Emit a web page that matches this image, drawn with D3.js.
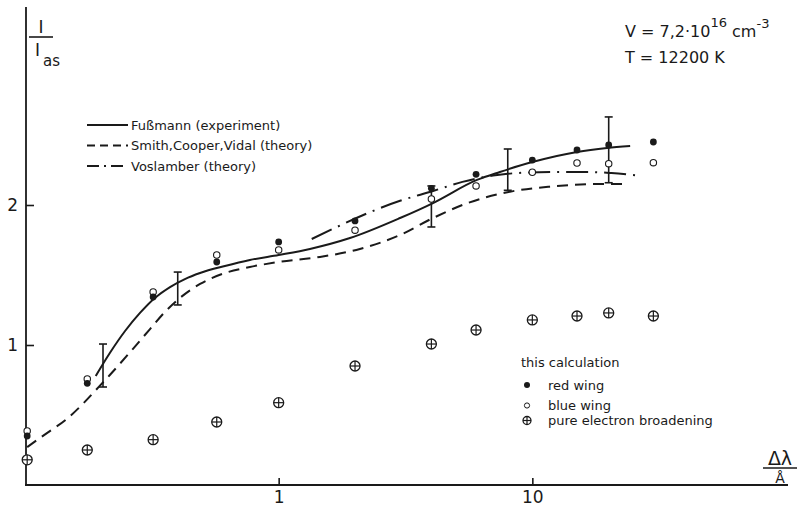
<!DOCTYPE html>
<html>
<head>
<meta charset="utf-8">
<script src="https://cdn.jsdelivr.net/npm/d3@7"></script>
<style>
  body { margin: 0; background: #fff; }
  svg { display: block; }
  text { font-family: "DejaVu Sans", sans-serif; fill: #1a1a1a; }
</style>
</head>
<body>
<svg width="799" height="507"></svg>
<script>
// Δλ positions of the calculated points
const calcX = [0.102, 0.176, 0.32, 0.57, 1, 2, 4, 6, 10, 15, 20, 30];
const redWing = [0.35, 0.726, 1.343, 1.593, 1.736, 1.886, 2.119, 2.219, 2.321, 2.393, 2.429, 2.45];
const blueWing = [0.386, 0.757, 1.379, 1.643, 1.679, 1.82, 2.043, 2.136, 2.234, 2.30, 2.295, 2.302];
const electronOnly = [0.18, 0.25, 0.324, 0.45, 0.588, 0.85, 1.007, 1.107, 1.179, 1.207, 1.229, 1.207];

// Fußmann (experiment) curve
const fussmannX = [0.19, 0.216, 0.248, 0.284, 0.325, 0.373, 0.427, 0.49, 0.614, 0.77, 1.0, 1.328, 1.91, 3.01, 4.06, 6.05, 7.45, 10.0, 15.0, 19.7, 24.3];
const fussmannY = [0.779, 0.943, 1.10, 1.229, 1.336, 1.414, 1.471, 1.514, 1.564, 1.607, 1.643, 1.686, 1.764, 1.907, 2.014, 2.179, 2.236, 2.307, 2.379, 2.407, 2.421];

// Smith, Cooper, Vidal (theory)
const scvX = [0.102, 0.122, 0.146, 0.169, 0.192, 0.216, 0.266, 0.311, 0.356, 0.408, 0.49, 0.614, 0.77, 1.0, 1.455, 2.09, 3.01, 4.06, 5.52, 8.16, 11.7, 18.5, 22.8];
const scvY = [0.271, 0.371, 0.471, 0.579, 0.686, 0.786, 0.971, 1.114, 1.236, 1.336, 1.436, 1.514, 1.557, 1.593, 1.629, 1.686, 1.786, 1.907, 2.012, 2.095, 2.131, 2.15, 2.15];

// Voslamber (theory)
const voslX = [1.35, 3.01, 4.06, 5.3, 7.0, 9.5, 12.6, 16.4, 20.5, 25.8];
const voslY = [1.757, 2.03, 2.10, 2.165, 2.21, 2.232, 2.236, 2.236, 2.228, 2.212];

// error bars of the experiment
const errX = [0.203, 0.40, 4.0, 8.0, 20.0];
const errLo = [0.70, 1.286, 1.843, 2.105, 2.159];
const errHi = [1.007, 1.521, 2.136, 2.40, 2.629];

const xTicks = [1, 10];
const yTicks = [1, 2];

const svg = d3.select("svg");
const ink = "#1a1a1a";

const x = d3.scaleLog().domain([0.1, 100]).range([25, 786]);
const y = d3.scaleLinear().domain([0, 3.4]).range([485, 9]);

// axes (lines drawn by hand, ticks via d3.axis)
svg.append("line")
    .attr("x1", 26).attr("x2", 26).attr("y1", 7).attr("y2", y(0))
    .attr("stroke", ink).attr("stroke-width", 1.8);
svg.append("line")
    .attr("x1", 25).attr("x2", 788).attr("y1", y(0)).attr("y2", y(0))
    .attr("stroke", ink).attr("stroke-width", 1.8);

const yAxis = svg.append("g")
    .attr("transform", "translate(26,0)")
    .call(d3.axisLeft(y).tickValues(yTicks).tickFormat(d3.format("d"))
        .tickSizeInner(-8).tickSizeOuter(0).tickPadding(8));
const xAxis = svg.append("g")
    .attr("transform", `translate(0,${y(0)})`)
    .call(d3.axisBottom(x).tickValues(xTicks).tickFormat(d3.format("d"))
        .tickSizeInner(-7).tickSizeOuter(0).tickPadding(6));

[yAxis, xAxis].forEach(g => {
    g.select(".domain").remove();
    g.selectAll(".tick line").attr("stroke", ink).attr("stroke-width", 1.6);
    g.selectAll(".tick text")
        .attr("font-family", "DejaVu Sans, sans-serif")
        .attr("font-size", 17)
        .attr("fill", ink);
});

// curves
const toPts = (xs, ys) => xs.map((d, i) => [d, ys[i]]);
const line = d3.line()
    .x(d => x(d[0]))
    .y(d => y(d[1]))
    .curve(d3.curveMonotoneX);

svg.append("path")
    .datum(toPts(fussmannX, fussmannY))
    .attr("d", line)
    .attr("fill", "none").attr("stroke", ink).attr("stroke-width", 2);

svg.append("path")
    .datum(toPts(scvX, scvY))
    .attr("d", line)
    .attr("fill", "none").attr("stroke", ink).attr("stroke-width", 2)
    .attr("stroke-dasharray", "11,7");

svg.append("path")
    .datum(toPts(voslX, voslY))
    .attr("d", line)
    .attr("fill", "none").attr("stroke", ink).attr("stroke-width", 2)
    .attr("stroke-dasharray", "22,7,2,7");

// error bars
const err = svg.append("g").attr("stroke", ink).attr("stroke-width", 1.6);
errX.forEach((d, i) => {
    const cx = x(d);
    err.append("line").attr("x1", cx).attr("x2", cx).attr("y1", y(errLo[i])).attr("y2", y(errHi[i]));
    err.append("line").attr("x1", cx - 4).attr("x2", cx + 4).attr("y1", y(errLo[i])).attr("y2", y(errLo[i]));
    err.append("line").attr("x1", cx - 4).attr("x2", cx + 4).attr("y1", y(errHi[i])).attr("y2", y(errHi[i]));
});

// markers
function crossCircle(g, cx, cy, r) {
    g.append("circle").attr("cx", cx).attr("cy", cy).attr("r", r)
        .attr("fill", "#fff").attr("stroke", ink).attr("stroke-width", 1.3);
    g.append("line").attr("x1", cx - r).attr("x2", cx + r).attr("y1", cy).attr("y2", cy)
        .attr("stroke", ink).attr("stroke-width", 1.2);
    g.append("line").attr("x1", cx).attr("x2", cx).attr("y1", cy - r).attr("y2", cy + r)
        .attr("stroke", ink).attr("stroke-width", 1.2);
}

const marks = svg.append("g");
calcX.forEach((d, i) => {
    marks.append("circle").attr("cx", x(d)).attr("cy", y(blueWing[i])).attr("r", 3.2)
        .attr("fill", "#fff").attr("stroke", ink).attr("stroke-width", 1.1);
    marks.append("circle").attr("cx", x(d)).attr("cy", y(redWing[i])).attr("r", 3.4)
        .attr("fill", ink);
    crossCircle(marks, x(d), y(electronOnly[i]), 5);
});

// y label I / I_as
const yl = svg.append("g");
yl.append("text").attr("x", 41).attr("y", 33).attr("text-anchor", "middle")
    .attr("font-size", 17).text("I");
yl.append("line").attr("x1", 29).attr("x2", 53).attr("y1", 37).attr("y2", 37)
    .attr("stroke", ink).attr("stroke-width", 1.6);
yl.append("text").attr("x", 35).attr("y", 56).attr("font-size", 17).text("I");
yl.append("text").attr("x", 43).attr("y", 66).attr("font-size", 15).text("as");

// x label Δλ / Å
const xl = svg.append("g");
xl.append("text").attr("x", 780).attr("y", 465).attr("text-anchor", "middle")
    .attr("font-size", 19).text("Δλ");
xl.append("line").attr("x1", 763).attr("x2", 797).attr("y1", 468).attr("y2", 468)
    .attr("stroke", ink).attr("stroke-width", 1.6);
xl.append("text").attr("x", 780).attr("y", 483).attr("text-anchor", "middle")
    .attr("font-size", 14).text("Å");

// conditions, top right
const cond = svg.append("g").attr("font-size", 16);
const c1 = cond.append("text").attr("x", 625).attr("y", 37);
c1.append("tspan").text("V = 7,2·10");
c1.append("tspan").attr("dy", -10).attr("font-size", 13).text("16");
c1.append("tspan").attr("dy", 10).text(" cm");
c1.append("tspan").attr("dy", -9).attr("font-size", 13).text("-3");
cond.append("text").attr("x", 625).attr("y", 63).text("T = 12200  K");

// legend for curves
const curveLegend = [
    { label: "Fußmann (experiment)", dash: null },
    { label: "Smith,Cooper,Vidal (theory)", dash: "8,5" },
    { label: "Voslamber (theory)", dash: "12,5,2,5" }
];
const lg = svg.append("g");
curveLegend.forEach((d, i) => {
    const ly = 125 + i * 20.5;
    lg.append("line").attr("x1", 87).attr("x2", 128).attr("y1", ly).attr("y2", ly)
        .attr("stroke", ink).attr("stroke-width", 1.8)
        .attr("stroke-dasharray", d.dash);
    lg.append("text").attr("x", 131).attr("y", ly + 4.5).attr("font-size", 13).text(d.label);
});

// legend for calculated points
const pl = svg.append("g").attr("font-size", 13);
pl.append("text").attr("x", 521).attr("y", 367).text("this calculation");
pl.append("circle").attr("cx", 527).attr("cy", 385).attr("r", 3).attr("fill", ink);
pl.append("text").attr("x", 548).attr("y", 390).text("red  wing");
pl.append("circle").attr("cx", 527).attr("cy", 405.5).attr("r", 2.6)
    .attr("fill", "#fff").attr("stroke", ink).attr("stroke-width", 1);
pl.append("text").attr("x", 548).attr("y", 410).text("blue wing");
crossCircle(pl, 527, 420.5, 4);
pl.append("text").attr("x", 548).attr("y", 425).text("pure electron broadening");
</script>
</body>
</html>
